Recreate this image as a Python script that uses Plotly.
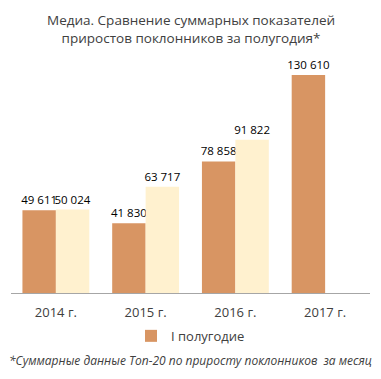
import plotly.graph_objects as go

categories = ["2014 г.", "2015 г.", "2016 г.", "2017 г."]
half1 = [49611, 41830, 78858, 130610]
half2 = [50024, 63717, 91822, None]
series1_name = "I полугодие"
series2_name = "II полугодие"
title_text = "Медиа. Сравнение суммарных показателей<br>приростов поклонников за полугодия*"
footnote = "*Суммарные данные Топ-20 по приросту поклонников  за месяц"

def fmt(v):
    return "" if v is None else f"{v:,}".replace(",", " ")

FONT = "Open Sans, Liberation Sans, sans-serif"

fig = go.Figure()
fig.add_trace(go.Bar(
    x=categories, y=half1, name=series1_name,
    marker=dict(color="#D89563", line=dict(width=0)),
    text=[fmt(v) for v in half1], textposition="outside",
    textfont=dict(size=11.5, color="#000000", family=FONT),
    constraintext="none", cliponaxis=False,
))
fig.add_trace(go.Bar(
    x=categories, y=half2, name=series2_name, showlegend=False,
    marker=dict(color="#FFF1CF", line=dict(width=0)),
    text=[fmt(v) for v in half2], textposition="outside",
    textfont=dict(size=11.5, color="#000000", family=FONT),
    constraintext="none", cliponaxis=False,
))

fig.update_layout(
    width=381, height=379,
    paper_bgcolor="white", plot_bgcolor="white",
    margin=dict(l=11, r=11, t=52, b=86, autoexpand=False),
    barmode="group", bargap=0.255, bargroupgap=0,
    font=dict(family=FONT, color="#404040"),
    showlegend=True,
    legend=dict(orientation="h", x=0.5, xanchor="center", y=-0.178, yanchor="middle",
                font=dict(size=13, color="#404040", family=FONT)),
    xaxis=dict(showline=True, linecolor="#A6A6A6", linewidth=1,
               ticks="outside", ticklen=7, tickcolor="rgba(0,0,0,0)",
               tickfont=dict(size=13, color="#404040", family=FONT)),
    yaxis=dict(visible=False, range=[0, 144400]),
    annotations=[
        dict(text=title_text, x=0.5, xref="paper", xanchor="center",
             y=1.095, yref="paper", yanchor="middle", showarrow=False,
             font=dict(size=13.5, color="#404040", family=FONT)),
        dict(text="<i>" + footnote + "</i>", x=0.5, xref="paper", xanchor="center",
             y=-0.282, yref="paper", yanchor="middle", showarrow=False,
             font=dict(size=12, color="#404040", family=FONT)),
    ],
)
fig.write_html("out.html", config={"displayModeBar": False},
               post_script="document.body.style.margin='0';document.body.style.overflow='hidden';")
